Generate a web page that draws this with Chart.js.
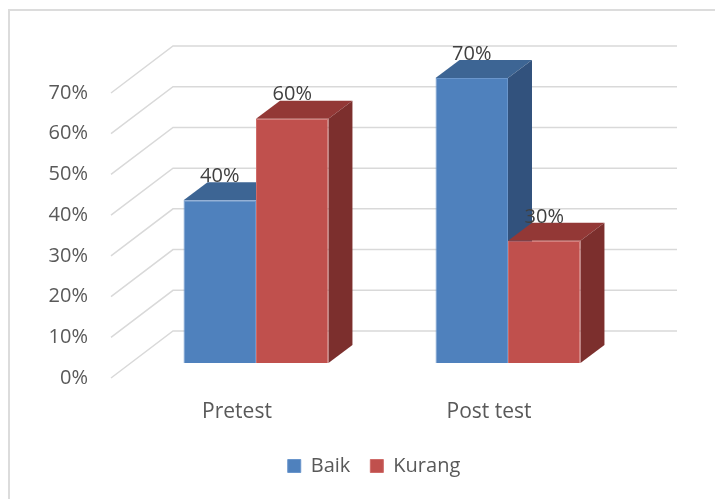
<!DOCTYPE html>
<html lang="id">
<head>
  <meta charset="UTF-8" />
  <title>Pretest vs Post test</title>
  <script src="https://cdn.jsdelivr.net/npm/chart.js"></script>
  <style>
    body {
      margin: 0;
      background: #fff;
      font-family: 'Open Sans', sans-serif;
    }
    .wrap {
      position: relative;
      width: 715px;
      height: 499px;
      overflow: hidden;
    }
    .frame {
      position: absolute;
      left: 8px;
      top: 9px;
      right: -10px;
      bottom: -10px;
      border: 2px solid #dcdcdc;
      pointer-events: none;
    }
  </style>
</head>
<body>
<div class="wrap">
  <canvas id="chart"></canvas>
  <div class="frame"></div>
</div>
<script>
  // data
  const categories = ['Pretest', 'Post test'];
  const baik = [40, 70];
  const kurang = [60, 30];
  const yMax = 70;
  const yStep = 10;

  // fake 3d offsets (px)
  const WALL = { x: 62, y: -47 };   // back wall depth
  const PLANE = { x: 19, y: -15 };  // where the bars sit
  const DEPTH = { x: 24, y: -18 };  // bar thickness

  function poly(ctx, pts, color) {
    ctx.fillStyle = color;
    ctx.beginPath();
    ctx.moveTo(pts[0][0], pts[0][1]);
    for (let i = 1; i < pts.length; i++) ctx.lineTo(pts[i][0], pts[i][1]);
    ctx.closePath();
    ctx.fill();
  }

  const bars3d = {
    id: 'bars3d',
    beforeDatasetsDraw(chart) {
      const ctx = chart.ctx;
      const ys = chart.scales.y;
      const a = chart.chartArea;

      // side wall + back wall grid
      ctx.save();
      ctx.strokeStyle = '#d9d9d9';
      ctx.lineWidth = 1.5;
      ys.ticks.forEach(t => {
        const py = ys.getPixelForValue(t.value);
        ctx.beginPath();
        ctx.moveTo(a.left, py);
        ctx.lineTo(a.left + WALL.x, py + WALL.y);
        ctx.lineTo(a.right + WALL.x, py + WALL.y);
        ctx.stroke();
      });
      ctx.restore();

      // bars: per category, series in order so the next front covers the previous side
      ctx.save();
      ctx.translate(PLANE.x, PLANE.y);
      const metas = chart.getSortedVisibleDatasetMetas();
      for (let i = 0; i < categories.length; i++) {
        metas.forEach(meta => {
          const bar = meta.data[i];
          const ds = chart.data.datasets[meta.index];
          const p = bar.getProps(['x', 'y', 'base', 'width'], true);
          const l = p.x - p.width / 2, r = p.x + p.width / 2;
          poly(ctx, [[l, p.y], [l + DEPTH.x, p.y + DEPTH.y], [r + DEPTH.x, p.y + DEPTH.y], [r, p.y]], ds.topColor);
          poly(ctx, [[r, p.y], [r + DEPTH.x, p.y + DEPTH.y], [r + DEPTH.x, p.base + DEPTH.y], [r, p.base]], ds.sideColor);
          bar.draw(ctx, a);
        });
      }

      // value labels
      ctx.font = "20px 'Open Sans'";
      ctx.fillStyle = '#404040';
      ctx.textAlign = 'center';
      ctx.textBaseline = 'middle';
      metas.forEach(meta => {
        const ds = chart.data.datasets[meta.index];
        meta.data.forEach((bar, i) => {
          const p = bar.getProps(['x', 'y'], true);
          ctx.fillText(ds.data[i] + '%', p.x, p.y - 24);
        });
      });
      ctx.restore();
      return false;
    }
  };

  new Chart(document.getElementById('chart'), {
    type: 'bar',
    data: {
      labels: categories,
      datasets: [
        {
          label: 'Baik',
          data: baik,
          backgroundColor: '#4f81bd',
          borderColor: '#6a96cc',
          borderWidth: 1,
          topColor: '#3d6594',
          sideColor: '#32527d'
        },
        {
          label: 'Kurang',
          data: kurang,
          backgroundColor: '#c0504d',
          borderColor: '#cf6c69',
          borderWidth: 1,
          topColor: '#933836',
          sideColor: '#7c2f2d'
        }
      ]
    },
    options: {
      responsive: true,
      maintainAspectRatio: false,
      animation: false,
      events: [],
      // legend is centred a bit right of the page middle, hence the uneven padding
      layout: { padding: { top: 93, right: 0, bottom: 13, left: 33 } },
      datasets: {
        bar: { categoryPercentage: 0.575, barPercentage: 1 }
      },
      scales: {
        x: {
          grid: { display: false },
          border: { display: false },
          ticks: {
            color: '#595959',
            font: { family: 'Open Sans', size: 21 },
            padding: 13
          },
          afterFit(scale) { scale.height = 58; }
        },
        y: {
          min: 0,
          max: yMax,
          grid: { display: false, drawTicks: false },
          border: { display: false },
          ticks: {
            stepSize: yStep,
            color: '#595959',
            font: { family: 'Open Sans', size: 20 },
            padding: 23,
            callback: v => v + '%'
          },
          afterFit(scale) { scale.width = 78; }
        },
        // empty spacer on the right, room for the back wall
        spacer: {
          type: 'linear',
          position: 'right',
          grid: { display: false, drawTicks: false },
          border: { display: false },
          ticks: { display: false },
          afterFit(scale) { scale.width = 100; }
        }
      },
      plugins: {
        tooltip: { enabled: false },
        legend: {
          position: 'bottom',
          labels: {
            color: '#595959',
            font: { family: 'Open Sans', size: 20 },
            boxWidth: 13,
            boxHeight: 13,
            padding: 20
          }
        }
      }
    },
    plugins: [bars3d]
  });
</script>
</body>
</html>
